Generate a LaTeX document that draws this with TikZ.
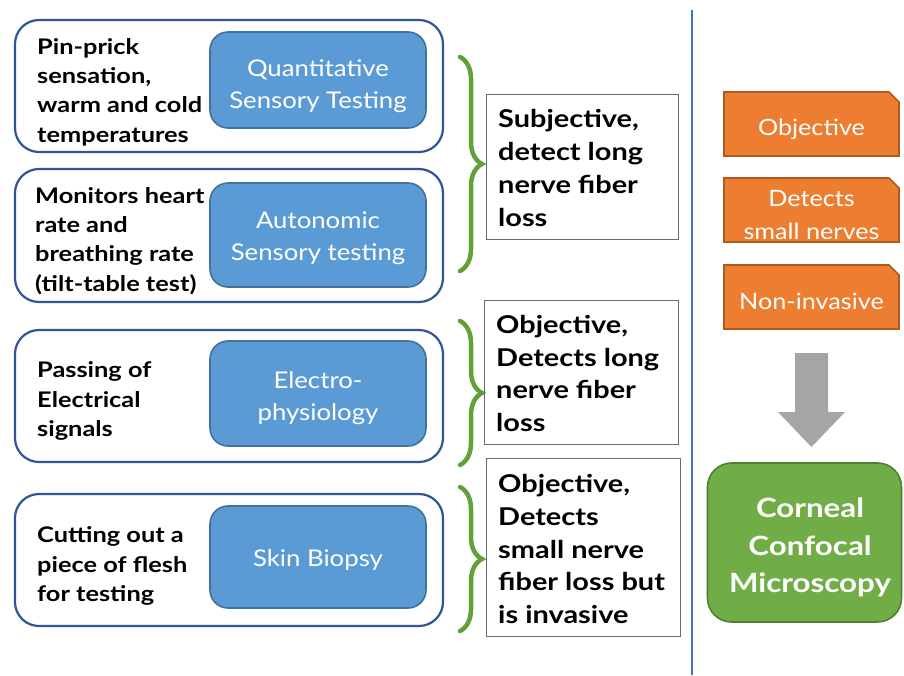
\documentclass[tikz,border=0pt]{standalone}
\usepackage{fontspec}
\setmainfont{Lato}[FakeStretch=1.12, BoldFeatures={FakeStretch=1.18}]
\usetikzlibrary{decorations.pathreplacing}
\definecolor{outerblue}{HTML}{2F5597}
\definecolor{innerfill}{HTML}{5B9BD5}
\definecolor{innerline}{HTML}{41719C}
\definecolor{boxgray}{HTML}{5F6B78}
\definecolor{orfill}{HTML}{ED7D31}
\definecolor{orline}{HTML}{AE5A21}
\definecolor{grfill}{HTML}{70AD47}
\definecolor{grline}{HTML}{507E32}
\definecolor{bracegreen}{HTML}{62A03A}
\definecolor{arrgray}{HTML}{A5A5A5}
\definecolor{vline}{HTML}{4472C4}
\tikzset{
  outerbox/.style={draw=outerblue, line width=2.2pt, fill=white, rounded corners=24pt, minimum width=428pt, inner sep=0pt},
  innerbox/.style={draw=innerline, line width=1.6pt, fill=innerfill, rounded corners=18pt, minimum width=216pt, inner sep=0pt},
  bluetext/.style={text=white, align=center, inner sep=0pt, font=\fontsize{23}{32}\selectfont},
  lefttext/.style={anchor=west, align=left, inner sep=0pt, font=\bfseries\fontsize{21.5}{29.3}\selectfont},
  notebox/.style={draw=boxgray, line width=1pt, inner sep=0pt},
  notetext/.style={anchor=west, align=left, inner sep=0pt, font=\bfseries\fontsize{24.5}{32.7}\selectfont},
  bracestyle/.style={draw=bracegreen, line width=4.5pt, line cap=round, decorate, decoration={brace, amplitude=22pt}},
  ortext/.style={text=white, align=center, inner sep=0pt, font=\fontsize{22.5}{33}\selectfont},
}
\begin{document}
\begin{tikzpicture}[x=1pt,y=-1pt]
\useasboundingbox (0,0) rectangle (904,675);
% outer boxes
\node[outerbox, minimum height=132pt] (o1) at (229,86) {};
\node[outerbox, minimum height=133pt] (o2) at (229,235.5) {};
\node[outerbox, minimum height=132pt] (o3) at (229,396) {};
\node[outerbox, minimum height=132pt] (o4) at (229,560) {};
% inner boxes
\node[innerbox, minimum height=96pt] (i1) at (318,80) {};
\node[innerbox, minimum height=104pt] (i2) at (318,235) {};
\node[innerbox, minimum height=105pt] (i3) at (318,393.5) {};
\node[innerbox, minimum height=102pt] (i4) at (318,557) {};
\node[bluetext] (i1t) at (318,86) {Quantitative\\Sensory Testing};
\node[bluetext] (i2t) at (318,238.5) {Autonomic\\Sensory testing};
\node[bluetext] (i3t) at (318,398.5) {Electro-\\physiology};
\node[bluetext] (i4t) at (318,560) {Skin Biopsy};
% left texts
\node[lefttext] (l1) at (37,92) {Pin-prick\\sensation,\\warm and cold\\temperatures};
\node[lefttext] (l2) at (35,241) {Monitors heart\\rate and\\breathing rate\\(tilt-table test)};
\node[lefttext] (l3) at (37,401) {Passing of\\Electrical\\signals};
\node[lefttext] (l4) at (37,566) {Cutting out a\\piece of flesh\\for testing};
% braces
\coordinate (b1t) at (460,57);
\coordinate (b1b) at (460,271);
\coordinate (b2t) at (460,321);
\coordinate (b2b) at (460,465);
\coordinate (b3t) at (460,487);
\coordinate (b3b) at (460,631);
\draw[bracestyle] (b1t) -- (b1b);
\draw[bracestyle] (b2t) -- (b2b);
\draw[bracestyle] (b3t) -- (b3b);
% note boxes
\node[notebox, minimum width=192pt, minimum height=145pt] (n1) at (582,166.5) {};
\node[notebox, minimum width=194pt, minimum height=144pt] (n2) at (581,372) {};
\node[notebox, minimum width=194pt, minimum height=178pt] (n3) at (583,547) {};
\node[notetext] (t1) at (498,168) {Subjective,\\detect long\\nerve fiber\\loss};
\node[notetext] (t2) at (496,373.5) {Objective,\\Detects long\\nerve fiber\\loss};
\node[notetext] (t3) at (498,549) {Objective,\\Detects\\small nerve\\fiber loss but\\is invasive};
% vertical separator
\coordinate (vt) at (692,10);
\coordinate (vb) at (692,675);
\draw[vline, line width=2.6pt] (vt) -- (vb);
% orange snipped boxes
\foreach \yt/\yb in {92/156, 178/242, 265/329}{
  \filldraw[fill=orfill, draw=orline, line width=1.6pt]
    (724,\yt) -- (889,\yt) -- (899,\yt+10) -- (899,\yb) -- (724,\yb) -- cycle;
}
\node[ortext] (r1) at (811.5,129.5) {Objective};
\node[ortext] (r2) at (811.5,215) {Detects\\small nerves};
\node[ortext] (r3) at (811.5,301) {Non-invasive};
% gray arrow
\fill[arrgray] (795,353) -- (828,353) -- (828,412) -- (845,412) -- (811.5,447) -- (778,412) -- (795,412) -- cycle;
% green box
\node[draw=grline, line width=1.6pt, fill=grfill, rounded corners=24pt, minimum width=194pt, minimum height=159pt, inner sep=0pt] (g) at (804.5,542.5) {};
\node[text=white, align=center, inner sep=0pt, font=\bfseries\fontsize{26.5}{37.5}\selectfont] (gt) at (810,547.5) {Corneal\\Confocal\\Microscopy};
\end{tikzpicture}
\end{document}
